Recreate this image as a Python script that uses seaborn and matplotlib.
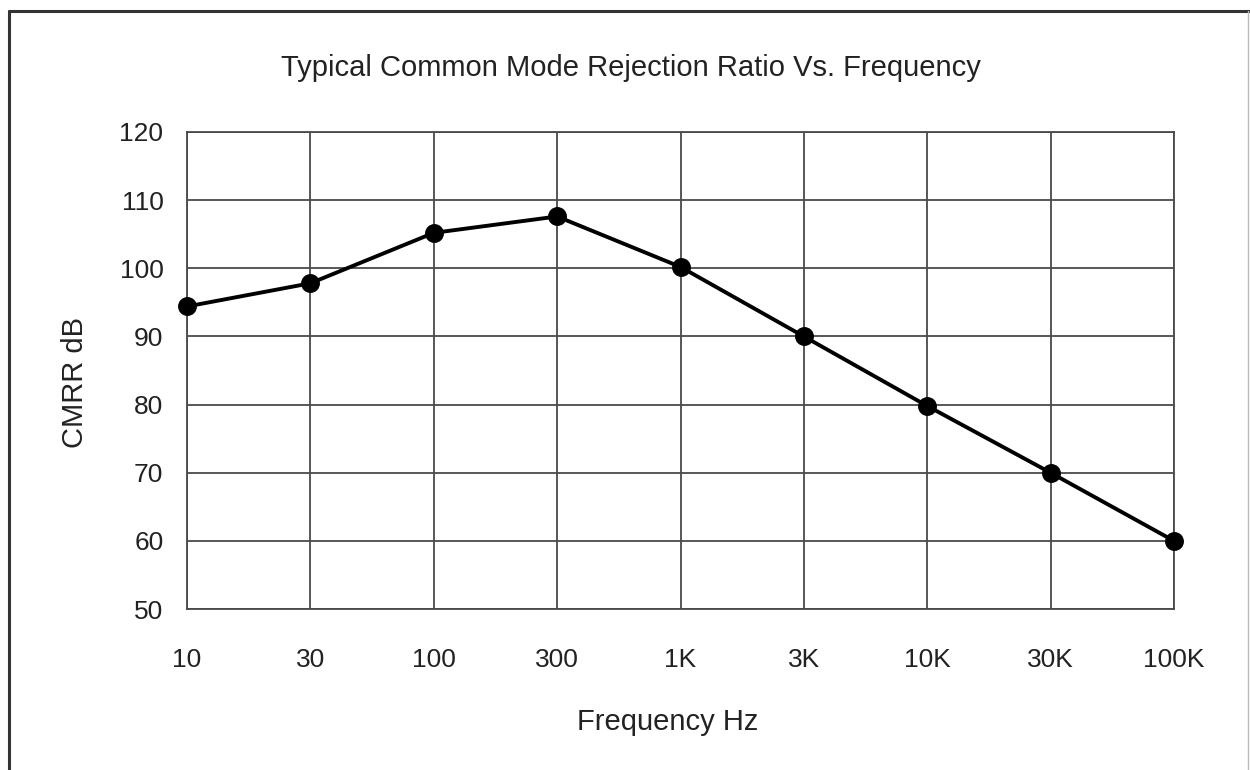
import pandas as pd
import matplotlib.pyplot as plt
import seaborn as sns
from matplotlib.lines import Line2D

# data
freq_labels = ['10', '30', '100', '300', '1K', '3K', '10K', '30K', '100K']
cmrr_db = [94.4, 97.8, 105.2, 107.6, 100.2, 90.0, 79.8, 70.0, 60.0]
y_ticks = [50, 60, 70, 80, 90, 100, 110, 120]

df = pd.DataFrame({'freq': freq_labels, 'cmrr': cmrr_db})

sns.set_style('white')
plt.rcParams['font.family'] = ['Liberation Sans', 'DejaVu Sans']

fig = plt.figure(figsize=(12.5, 7.7), dpi=100)
ax = fig.add_axes([0.1496, 0.209, 0.7896, 0.6196])

sns.pointplot(x='freq', y='cmrr', data=df, order=freq_labels, color='black',
              markers='o', markersize=11.5, linewidth=2.8, ax=ax)

# markers at the edges should not be cut
for ln in ax.lines:
    ln.set_clip_on(False)
    ln.set_zorder(5)

grid_color = '#4a4a4a'
ax.grid(True, axis='both', color=grid_color, linewidth=1.3)
ax.set_axisbelow(True)

ax.set_xlim(0, len(freq_labels) - 1)
ax.set_ylim(50, 120)
ax.set_yticks(y_ticks)
ax.tick_params(axis='both', length=0, labelsize=19, colors='#222222')
ax.tick_params(axis='y', pad=17)
ax.tick_params(axis='x', pad=28)

for spine in ax.spines.values():
    spine.set_visible(True)
    spine.set_color(grid_color)
    spine.set_linewidth(1.3)

ax.set_xlabel('Frequency Hz', fontsize=21, color='#222222')
ax.xaxis.label.set_va('center')
ax.xaxis.set_label_coords(0.487, -0.237)
ax.set_ylabel('CMRR dB', fontsize=21, color='#222222')
ax.yaxis.label.set_va('center')
ax.yaxis.set_label_coords(-0.113, 0.475)

fig.text(0.505, 0.912, 'Typical Common Mode Rejection Ratio Vs. Frequency',
         fontsize=21, color='#222222', ha='center', va='center')

# frame around the figure (left, top, right)
fig.add_artist(Line2D([0.0075, 0.0075], [0, 0.986], color='#333333', linewidth=2.2))
fig.add_artist(Line2D([0.0075, 1.0], [0.986, 0.986], color='#333333', linewidth=2.2))
fig.add_artist(Line2D([0.998, 0.998], [0, 0.986], color='#bbbbbb', linewidth=1))

fig.savefig('out.png', dpi=100)
